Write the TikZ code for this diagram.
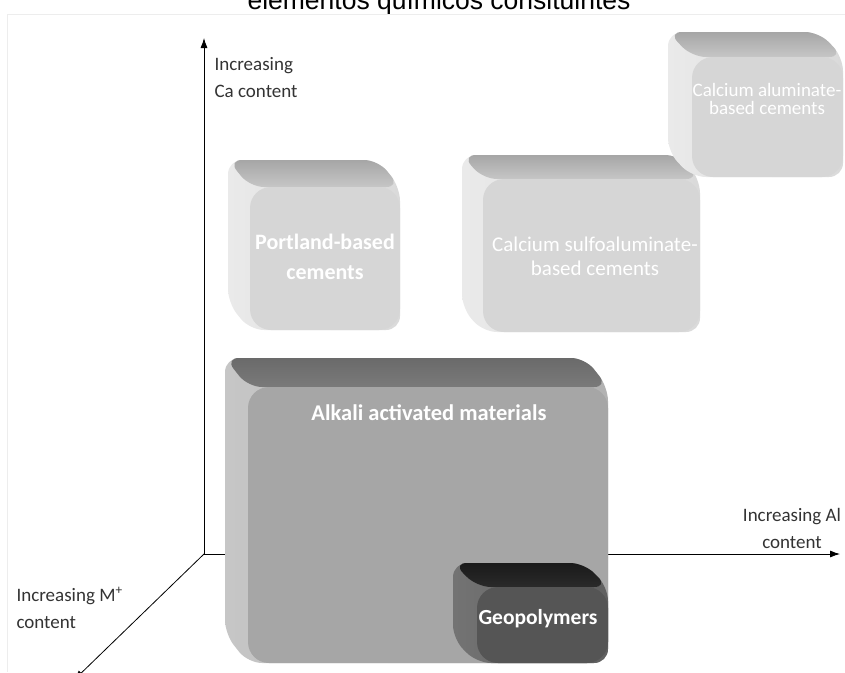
\documentclass[tikz,border=0pt]{standalone}
\usepackage{fontspec}
\setmainfont{Carlito}
\newfontfamily\titlefont{Liberation Sans}
\usepackage{xcolor}
\usepackage{tikz}
\usetikzlibrary{arrows.meta,positioning,calc}

% tones of the blocks
\definecolor{lightfrontc}{HTML}{D6D6D6}
\definecolor{lighttopa}{HTML}{A6A6A6}
\definecolor{lighttopb}{HTML}{C6C6C6}
\definecolor{lightsidea}{HTML}{EAEAEA}
\definecolor{lightsideb}{HTML}{DADADA}
\definecolor{midfrontc}{HTML}{A6A6A6}
\definecolor{midtopa}{HTML}{6A6A6A}
\definecolor{midtopb}{HTML}{7A7A7A}
\definecolor{midsidea}{HTML}{C6C6C6}
\definecolor{midsideb}{HTML}{B2B2B2}
\definecolor{darkfrontc}{HTML}{555555}
\definecolor{darktopa}{HTML}{1A1A1A}
\definecolor{darktopb}{HTML}{2A2A2A}
\definecolor{darksidea}{HTML}{737373}
\definecolor{darksideb}{HTML}{606060}

\tikzset{
  lighttop/.style={top color=lighttopa, bottom color=lighttopb},
  lightside/.style={left color=lightsidea, right color=lightsideb},
  lightfront/.style={fill=lightfrontc},
  midtop/.style={top color=midtopa, bottom color=midtopb},
  midside/.style={left color=midsidea, right color=midsideb},
  midfront/.style={fill=midfrontc},
  darktop/.style={top color=darktopa, bottom color=darktopb},
  darkside/.style={left color=darksidea, right color=darksideb},
  darkfront/.style={fill=darkfrontc},
  axis/.style={line width=0.8pt, -{Latex[length=10pt,width=7pt]}},
  axislabel/.style={font=\fontsize{19}{27}\selectfont, text=black!80},
  boxtext/.style={align=center, text=white, inner sep=0pt},
}

% block: front corner (#1,#2), opposite corner (#3,#4), depth (#5,#6), tone #7
\newcommand{\slab}[7]{%
  \path[#7side, rounded corners=14] ({#1-#5},{#2-#6}) -- ({#3-#5},{#2-#6}) -- (#3,#2)
    -- (#3,#4) -- (#1,#4) -- ({#1-#5},{#4-#6}) -- cycle;
  \path[#7top, rounded corners=14] ({#1-#5},{#2-#6}) -- ({#3-#5},{#2-#6}) -- (#3,#2)
    -- (#1,#2) -- cycle;
  \path[#7front, rounded corners=21] (#1,#2) rectangle (#3,#4);
}

\begin{document}
\begin{tikzpicture}[x=1pt,y=-1pt]
    \useasboundingbox (0,0) rectangle (845,672);

    % cut-off heading and faint frame
    \node[font=\titlefont\fontsize{26.5}{30}\selectfont, anchor=base] (title) at (439,9)
      {elementos químicos consituintes};
    \draw[black!7, line width=0.8pt] (7,672) -- (7,14) -- (845,14);

    % Axes
    \coordinate (origin) at (204,554);
    \coordinate (caend) at (204,38);
    \coordinate (alend) at (840,554);
    \coordinate (mend) at (74,680);
    \draw[axis] (origin) -- (caend);
    \draw[axis] (origin) -- (alend);
    \draw[axis] (origin) -- (mend);

    \node[axislabel, align=left, anchor=north west] (calabel) at (211,54)
      {Increasing\\Ca content};
    \node[axislabel, align=center, anchor=south] (allabel) at (792,552)
      {Increasing Al\\content};
    \node[axislabel, align=left, anchor=north west] (mlabel) at (13,584)
      {Increasing M\textsuperscript{+}\\content};

    % Upper blocks
    \slab{250}{187}{400}{330}{22}{27}{light}
    \node[boxtext, font=\fontsize{22}{30}\selectfont\bfseries] (portland) at (325,257)
      {Portland-based\\cements};

    \slab{483}{179}{700}{332}{21}{24}{light}
    \node[boxtext, font=\fontsize{21}{24}\selectfont] (sulfo) at (595,256)
      {Calcium sulfoaluminate-\\based cements};

    \slab{692}{57}{843}{177}{24}{25}{light}
    \node[boxtext, font=\fontsize{19}{18}\selectfont] (aluminate) at (767,99)
      {Calcium aluminate-\\based cements};

    % Alkali activated block
    \slab{248}{387}{608}{663}{23}{29}{mid}
    \node[boxtext, font=\fontsize{22.5}{26}\selectfont\bfseries] (alkali) at (429,413)
      {Alkali activated materials};

    \slab{477}{587}{608}{663}{24}{24}{dark}
    \node[boxtext, font=\fontsize{21.5}{26}\selectfont\bfseries] (geo) at (538,619)
      {Geopolymers};
\end{tikzpicture}
\end{document}
